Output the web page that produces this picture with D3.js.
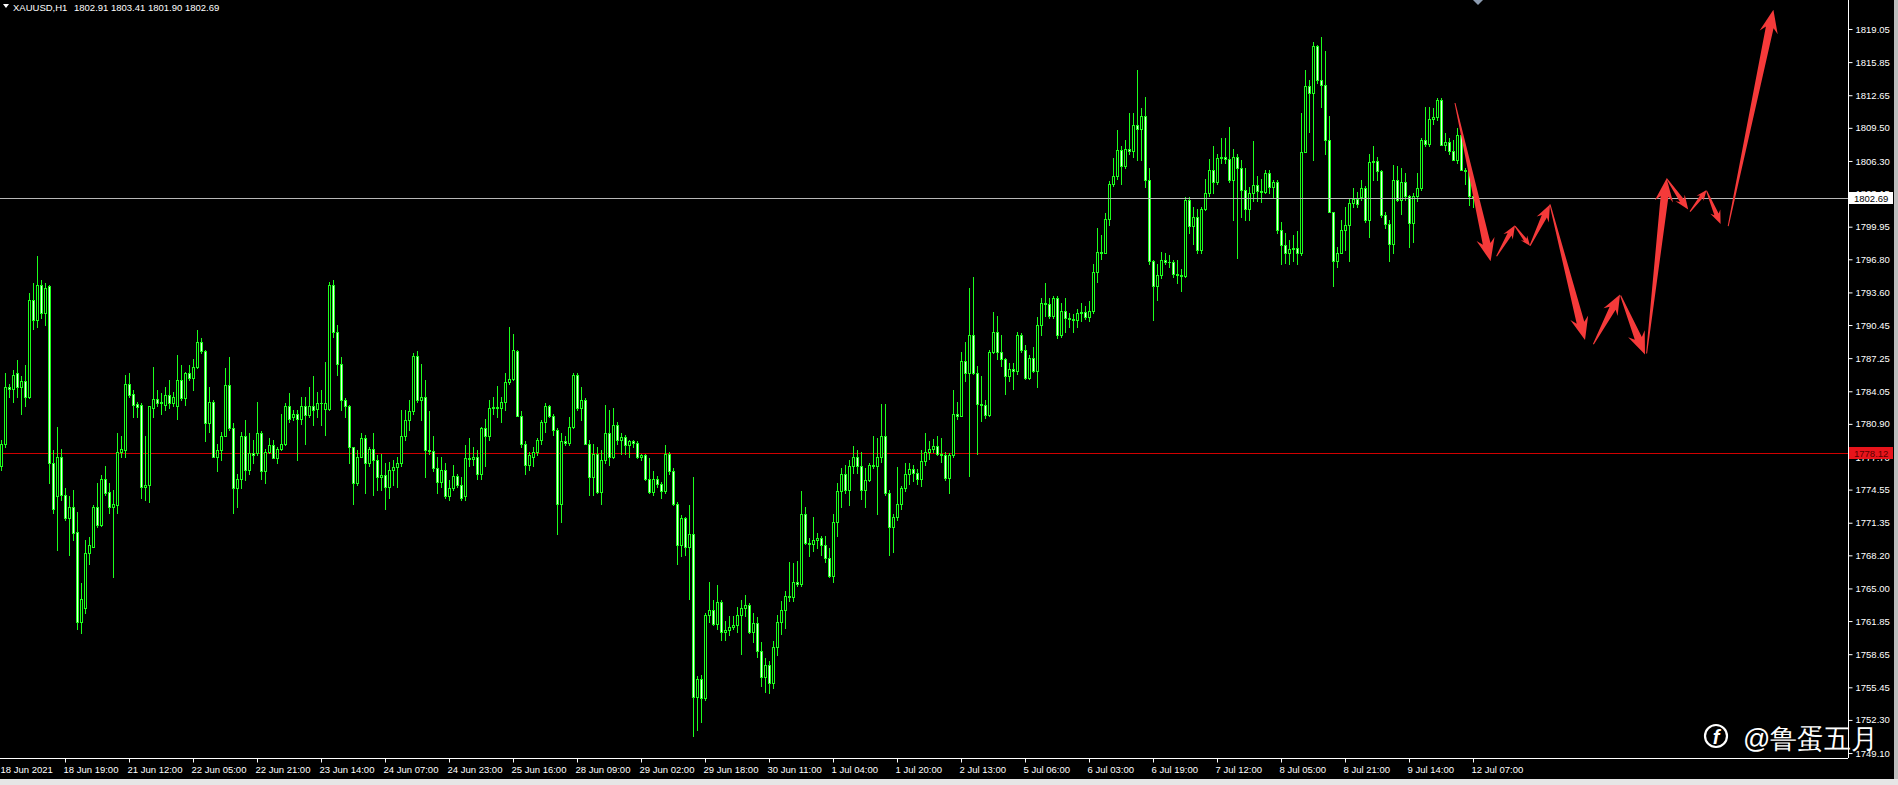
<!DOCTYPE html>
<html><head><meta charset="utf-8">
<script src="https://cdn.jsdelivr.net/npm/d3@7"></script>
<style>html,body{margin:0;padding:0;background:#000;overflow:hidden}text{font-family:"Liberation Sans",Arial,sans-serif}</style>
</head><body>
<svg id="c" width="1898" height="785"></svg>
<script>
const symbolTitle = "XAUUSD,H1";
const lastOHLC = [1802.91, 1803.41, 1801.90, 1802.69];
const bidPrice = 1802.69;
const levelPrice = 1778.12;
const barsPerLabel = 16;
const timeLabels = ["18 Jun 2021","18 Jun 19:00","21 Jun 12:00","22 Jun 05:00","22 Jun 21:00","23 Jun 14:00","24 Jun 07:00","24 Jun 23:00","25 Jun 16:00","28 Jun 09:00","29 Jun 02:00","29 Jun 18:00","30 Jun 11:00","1 Jul 04:00","1 Jul 20:00","2 Jul 13:00","5 Jul 06:00","6 Jul 03:00","6 Jul 19:00","7 Jul 12:00","8 Jul 05:00","8 Jul 21:00","9 Jul 14:00","12 Jul 07:00"];
const priceTicks = [1819.05,1815.85,1812.65,1809.50,1806.30,1803.15,1799.95,1796.80,1793.60,1790.45,1787.25,1784.05,1780.90,1777.70,1774.55,1771.35,1768.20,1765.00,1761.85,1758.65,1755.45,1752.30,1749.10];

const openP = [
1776.8,1779.0,1784.5,1784.3,1785.8,1784.5,1785.0,1783.5,1792.9,1790.9,
1794.3,1791.6,1794.2,1777.1,1773.9,1777.7,1774.0,1771.8,1772.9,1770.5,
1761.8,1763.1,1768.4,1769.0,1772.9,1771.1,1775.6,1774.3,1772.9,1773.1,
1778.2,1778.4,1784.8,1783.8,1782.8,1782.7,1774.8,1775.0,1782.4,1783.3,
1782.9,1782.7,1783.7,1782.9,1782.6,1785.1,1783.4,1785.8,1785.3,1786.4,
1788.8,1787.9,1781.0,1783.0,1777.7,1778.4,1779.7,1784.7,1780.5,1774.7,
1775.6,1779.7,1776.4,1778.1,1778.1,1780.0,1776.3,1778.2,1778.9,1777.6,
1778.5,1779.0,1782.6,1781.6,1781.9,1781.4,1782.6,1781.8,1782.6,1782.3,
1782.9,1782.3,1782.3,1794.3,1789.8,1786.7,1783.2,1782.6,1778.7,1775.2,
1777.7,1779.5,1777.1,1778.5,1777.4,1775.8,1776.0,1774.8,1776.4,1776.7,
1777.1,1779.7,1781.3,1782.1,1787.5,1783.2,1783.5,1778.4,1778.3,1776.6,
1775.3,1776.4,1773.9,1774.7,1775.9,1775.0,1773.9,1777.6,1777.5,1777.7,
1776.1,1780.5,1779.7,1782.4,1782.5,1782.4,1783.0,1784.9,1785.2,1787.9,
1781.7,1779.0,1776.9,1777.7,1778.2,1779.3,1781.1,1782.6,1781.7,1780.3,
1773.2,1779.2,1779.1,1780.6,1785.6,1782.4,1783.2,1779.0,1775.8,1778.0,
1774.3,1777.4,1780.0,1777.7,1780.8,1779.3,1779.6,1778.9,1779.2,1779.1,
1777.7,1777.9,1775.6,1774.3,1775.6,1775.1,1774.4,1778.0,1776.3,1773.2,
1769.2,1771.8,1769.0,1770.3,1754.5,1756.3,1754.4,1762.4,1762.9,1761.6,
1763.7,1760.8,1761.0,1761.3,1761.5,1762.4,1763.1,1763.4,1760.8,1761.7,
1759.0,1756.4,1757.6,1755.9,1759.3,1761.8,1762.9,1764.3,1764.2,1765.6,
1765.4,1772.2,1769.4,1769.3,1769.7,1769.9,1769.2,1767.9,1766.2,1771.4,
1774.4,1776.1,1774.5,1776.8,1777.7,1776.8,1774.5,1775.5,1776.9,1776.8,
1777.7,1779.7,1774.2,1770.9,1771.9,1773.2,1774.7,1776.1,1776.5,1776.2,
1775.6,1777.3,1778.2,1778.5,1778.8,1778.0,1777.9,1775.7,1777.9,1781.9,
1781.7,1787.0,1785.8,1789.5,1785.8,1782.8,1782.7,1781.8,1787.8,1789.8,
1787.8,1787.2,1785.5,1786.2,1786.0,1789.5,1788.0,1785.3,1787.3,1786.0,
1790.5,1792.6,1792.5,1791.3,1793.1,1789.5,1791.8,1791.1,1791.0,1790.9,
1791.6,1791.7,1791.2,1791.8,1795.6,1797.5,1797.4,1800.7,1804.1,1804.8,
1807.4,1805.8,1807.5,1807.3,1809.8,1809.4,1810.6,1804.5,1796.6,1794.2,
1795.3,1796.7,1796.5,1796.5,1795.4,1795.3,1795.2,1802.5,1800.0,1800.9,
1797.7,1801.7,1803.2,1805.4,1804.3,1806.6,1806.7,1806.5,1804.5,1806.7,
1805.6,1803.5,1801.7,1803.2,1804.0,1803.4,1803.3,1805.1,1803.8,1804.3,
1799.6,1798.2,1797.4,1797.8,1797.9,1797.4,1807.2,1813.5,1812.9,1817.4,
1814.1,1813.6,1808.3,1801.4,1796.6,1797.4,1799.6,1800.1,1802.2,1802.6,
1802.8,1803.7,1800.6,1806.2,1806.3,1805.3,1801.1,1800.2,1798.3,1804.5,
1802.5,1804.3,1802.9,1800.3,1802.9,1803.7,1808.3,1807.9,1810.4,1810.5,
1812.2,1807.8,1808.1,1807.3,1806.4,1808.8,1805.4,1805.3,1802.91];

const highP = [
1779.3,1785.8,1784.8,1786.1,1787.1,1785.5,1786.6,1793.5,1794.5,1797.1,
1794.8,1794.5,1794.3,1778.4,1780.6,1778.5,1774.7,1773.9,1774.5,1772.4,
1765.5,1769.7,1770.0,1773.1,1775.2,1776.0,1776.8,1775.2,1774.5,1780.0,
1779.7,1785.6,1785.8,1784.2,1783.0,1782.9,1779.7,1782.6,1786.4,1784.2,
1783.9,1784.5,1785.1,1784.0,1787.6,1786.6,1785.9,1786.6,1787.2,1790.0,
1789.2,1788.0,1784.5,1783.2,1779.0,1780.1,1786.3,1787.4,1781.0,1776.1,
1780.1,1781.3,1780.0,1779.3,1783.0,1780.2,1778.5,1779.5,1779.3,1778.7,
1781.9,1782.9,1783.9,1782.2,1782.2,1783.5,1783.5,1784.5,1785.5,1784.0,
1784.2,1786.9,1794.6,1794.8,1790.5,1787.4,1783.4,1782.7,1778.7,1778.4,
1780.0,1779.8,1778.7,1780.0,1777.9,1778.0,1777.1,1777.2,1777.4,1777.7,
1782.2,1782.2,1783.2,1787.7,1787.9,1786.7,1785.1,1782.1,1779.7,1777.7,
1777.7,1777.1,1775.5,1776.9,1776.1,1775.8,1778.9,1779.5,1778.7,1778.4,
1780.6,1781.4,1783.2,1783.5,1784.6,1783.5,1785.8,1790.3,1789.6,1788.0,
1782.1,1779.2,1778.2,1778.7,1779.5,1781.3,1782.9,1782.7,1781.9,1780.5,
1780.0,1779.7,1781.6,1785.8,1785.8,1784.5,1783.4,1779.3,1779.0,1778.7,
1778.4,1782.7,1782.2,1782.4,1781.1,1780.0,1779.8,1779.3,1779.3,1779.2,
1778.0,1778.0,1777.6,1776.3,1775.9,1775.3,1778.9,1778.2,1776.6,1773.4,
1772.1,1771.9,1773.1,1775.8,1756.5,1756.6,1762.6,1765.6,1763.9,1765.3,
1763.9,1761.9,1762.3,1762.3,1763.2,1763.9,1764.4,1763.6,1762.6,1762.2,
1759.8,1758.3,1758.0,1759.9,1762.4,1763.8,1764.8,1767.6,1767.5,1767.7,
1774.4,1772.9,1769.9,1771.9,1770.4,1770.1,1770.1,1768.9,1772.2,1775.2,
1776.6,1776.9,1777.4,1778.8,1778.4,1778.2,1776.6,1777.1,1779.7,1779.5,
1782.8,1782.8,1774.5,1772.2,1776.7,1774.9,1777.1,1777.1,1776.9,1776.5,
1778.4,1780.0,1779.2,1779.4,1779.7,1779.5,1778.2,1778.1,1784.2,1783.0,
1787.8,1788.8,1794.0,1795.1,1786.5,1785.5,1783.2,1788.0,1791.7,1791.3,
1789.5,1787.3,1786.8,1786.8,1789.8,1789.7,1788.5,1787.6,1788.3,1791.2,
1793.1,1794.5,1793.1,1793.3,1793.3,1792.6,1793.1,1791.6,1791.5,1792.0,
1792.6,1792.3,1792.8,1796.3,1799.8,1799.1,1801.3,1804.4,1806.6,1809.3,
1807.7,1808.3,1810.9,1810.9,1815.1,1811.4,1812.5,1805.6,1796.7,1796.3,
1797.5,1797.4,1797.2,1796.7,1796.7,1795.9,1802.8,1802.8,1801.9,1801.7,
1801.9,1804.6,1806.5,1807.7,1807.0,1808.5,1808.5,1809.6,1807.5,1807.0,
1806.4,1805.6,1803.8,1808.2,1804.8,1804.6,1805.4,1805.4,1804.5,1804.5,
1800.4,1799.3,1798.7,1799.1,1799.5,1810.9,1815.1,1814.1,1817.8,1817.5,
1818.3,1816.9,1810.6,1801.4,1798.0,1800.6,1801.9,1802.7,1803.7,1803.3,
1804.5,1803.9,1807.0,1807.7,1806.7,1805.4,1801.4,1800.6,1805.9,1805.8,
1805.6,1805.1,1803.0,1803.2,1805.1,1808.5,1811.5,1811.5,1811.4,1812.4,
1812.4,1809.0,1808.5,1808.3,1809.5,1809.0,1805.6,1805.4,1803.41];

const lowP = [
1776.4,1778.7,1783.5,1783.0,1783.5,1781.9,1782.6,1783.4,1790.1,1790.3,
1791.1,1790.5,1775.2,1772.3,1768.7,1773.5,1771.6,1768.2,1769.7,1761.1,
1760.7,1762.6,1767.4,1769.0,1770.9,1771.0,1774.0,1772.3,1766.1,1772.3,
1777.7,1777.7,1783.5,1781.6,1781.6,1773.7,1773.5,1773.4,1781.6,1782.6,
1781.9,1782.2,1782.4,1782.6,1781.4,1783.2,1782.7,1785.1,1784.2,1786.3,
1787.7,1779.2,1780.1,1777.7,1776.3,1777.4,1779.7,1780.3,1772.3,1772.9,
1774.7,1775.5,1776.1,1777.1,1777.9,1775.6,1775.2,1778.1,1777.6,1777.1,
1778.4,1778.9,1781.1,1781.3,1777.4,1780.9,1779.0,1781.6,1780.8,1781.6,
1780.8,1779.8,1782.2,1789.3,1785.6,1782.2,1781.6,1777.1,1773.2,1775.0,
1777.7,1774.2,1776.8,1774.0,1774.5,1774.5,1772.7,1773.7,1775.0,1774.8,
1776.8,1779.3,1780.3,1781.9,1783.0,1781.3,1775.8,1778.0,1776.3,1774.2,
1774.8,1773.7,1773.5,1774.5,1774.8,1773.5,1773.5,1776.8,1776.9,1775.6,
1775.6,1776.8,1779.3,1781.9,1781.6,1781.1,1782.2,1784.8,1785.1,1781.7,
1778.7,1776.1,1776.4,1776.8,1777.9,1779.0,1780.1,1781.6,1779.8,1770.3,
1771.4,1778.9,1778.9,1780.5,1782.2,1781.3,1779.0,1774.0,1774.0,1774.2,
1773.2,1777.1,1776.9,1777.6,1779.0,1778.0,1778.0,1777.7,1778.7,1777.6,
1777.4,1775.5,1774.2,1774.0,1774.8,1773.7,1774.2,1776.1,1773.1,1767.4,
1768.1,1768.2,1764.0,1750.7,1751.3,1752.1,1754.2,1761.8,1761.5,1761.1,
1760.0,1760.0,1760.5,1761.1,1760.8,1758.7,1762.3,1760.7,1759.8,1758.4,
1755.6,1755.0,1754.9,1755.4,1758.6,1760.6,1761.2,1763.8,1763.8,1765.2,
1765.2,1769.3,1768.1,1768.6,1768.9,1768.2,1767.6,1766.1,1765.6,1770.1,
1772.9,1774.2,1773.1,1776.2,1776.2,1773.6,1772.9,1775.4,1776.6,1772.2,
1777.2,1774.0,1768.2,1768.5,1771.6,1772.7,1774.4,1775.1,1775.4,1775.1,
1774.9,1776.9,1777.5,1778.2,1777.9,1777.2,1775.5,1774.2,1777.7,1781.4,
1781.7,1785.0,1775.9,1785.7,1778.0,1781.2,1781.5,1781.7,1787.7,1787.2,
1786.5,1783.8,1785.0,1784.3,1785.7,1787.8,1785.2,1785.2,1785.9,1784.5,
1789.5,1791.3,1791.1,1791.1,1789.2,1789.3,1789.8,1790.3,1789.8,1790.3,
1790.8,1791.0,1790.8,1791.6,1794.6,1796.8,1797.4,1800.1,1803.9,1804.6,
1804.1,1805.6,1807.0,1806.7,1806.4,1806.4,1803.8,1796.3,1790.9,1792.9,
1795.0,1796.3,1796.1,1795.1,1794.5,1793.7,1795.1,1799.3,1798.3,1797.4,
1797.4,1801.6,1802.9,1803.2,1804.1,1806.1,1806.1,1804.3,1800.6,1796.9,
1800.9,1800.6,1800.6,1802.4,1802.4,1802.3,1803.2,1803.2,1802.7,1799.3,
1796.3,1796.4,1796.3,1796.6,1796.3,1797.2,1807.2,1809.1,1806.4,1813.8,
1811.5,1807.0,1801.4,1794.2,1796.1,1797.4,1797.7,1796.6,1801.9,1801.9,
1802.5,1800.4,1799.0,1804.5,1804.5,1800.9,1799.8,1796.6,1797.4,1802.4,
1801.2,1802.5,1798.0,1798.5,1802.4,1803.5,1807.7,1807.7,1809.9,1810.3,
1807.8,1807.4,1807.0,1806.4,1806.1,1805.4,1804.1,1802.0,1801.90];

const closeP = [
1779.0,1784.5,1784.3,1785.6,1784.5,1785.0,1783.5,1792.9,1790.9,1794.3,
1791.6,1794.0,1777.1,1772.7,1777.7,1774.0,1771.8,1772.9,1770.4,1761.8,
1764.0,1768.4,1769.2,1772.9,1771.1,1775.6,1774.2,1772.9,1773.2,1778.2,
1778.5,1784.8,1783.7,1782.7,1782.5,1774.8,1775.0,1782.6,1783.3,1782.9,
1783.0,1783.7,1782.9,1783.5,1785.1,1783.4,1785.8,1785.3,1786.4,1788.8,
1787.9,1781.0,1783.0,1777.7,1778.4,1779.7,1784.7,1780.5,1774.7,1775.6,
1779.7,1776.4,1778.1,1777.9,1780.0,1776.3,1778.2,1778.9,1777.6,1778.5,
1779.0,1782.6,1781.4,1781.9,1781.4,1782.6,1781.8,1782.6,1782.2,1782.9,
1782.9,1782.9,1794.3,1789.8,1786.7,1783.2,1782.6,1778.7,1775.2,1777.7,
1779.5,1777.1,1778.5,1777.4,1775.8,1776.0,1774.8,1776.4,1776.7,1777.1,
1779.7,1781.3,1782.1,1787.5,1783.2,1783.5,1778.4,1778.3,1776.6,1775.3,
1776.4,1773.9,1774.7,1775.9,1775.0,1773.7,1777.6,1777.5,1777.7,1776.1,
1780.5,1779.7,1782.4,1782.5,1782.4,1783.0,1784.9,1785.2,1788.0,1781.7,
1779.0,1776.9,1777.9,1778.2,1779.3,1781.1,1782.6,1781.7,1780.3,1773.2,
1779.2,1779.1,1780.6,1785.6,1782.4,1783.2,1779.0,1775.8,1778.0,1774.3,
1777.4,1780.0,1777.7,1780.8,1779.3,1779.6,1778.9,1779.2,1779.1,1777.7,
1777.9,1775.6,1774.3,1775.6,1775.1,1774.4,1778.0,1776.3,1773.2,1769.2,
1771.8,1769.0,1770.3,1754.5,1756.3,1754.4,1762.4,1762.9,1761.6,1763.7,
1760.8,1761.0,1761.3,1761.5,1762.4,1763.1,1763.4,1760.8,1761.7,1759.0,
1756.4,1757.6,1755.9,1759.3,1761.8,1762.9,1764.3,1764.2,1765.6,1765.4,
1772.2,1769.4,1769.3,1769.7,1769.9,1769.2,1767.9,1766.2,1771.4,1774.4,
1776.1,1774.5,1776.8,1777.7,1776.8,1774.5,1775.5,1776.9,1776.8,1777.7,
1779.7,1774.2,1770.9,1771.9,1773.2,1774.7,1776.1,1776.5,1776.2,1775.6,
1777.3,1778.2,1778.5,1778.8,1778.0,1777.9,1775.7,1777.9,1781.9,1781.7,
1787.0,1785.8,1789.5,1785.8,1782.8,1782.7,1781.8,1787.8,1789.8,1787.8,
1787.2,1785.5,1786.2,1786.0,1789.5,1788.0,1785.3,1787.3,1786.0,1790.5,
1792.6,1792.5,1791.3,1793.1,1789.5,1791.8,1791.1,1791.0,1790.9,1791.6,
1791.7,1791.2,1791.8,1795.6,1797.5,1797.4,1800.7,1804.1,1804.8,1807.4,
1805.8,1807.5,1807.3,1809.8,1809.4,1810.6,1804.5,1796.6,1794.2,1795.3,
1796.7,1796.5,1796.5,1795.4,1795.3,1795.2,1802.5,1800.0,1800.9,1797.7,
1801.7,1803.2,1805.4,1804.3,1806.6,1806.7,1806.5,1804.5,1806.7,1805.6,
1803.5,1801.7,1803.2,1804.0,1803.4,1803.3,1805.1,1803.8,1804.3,1799.6,
1798.2,1797.4,1797.8,1797.9,1797.4,1807.2,1813.5,1812.9,1817.4,1814.1,
1813.6,1808.3,1801.4,1796.6,1797.4,1799.6,1800.1,1802.2,1802.6,1802.1,
1803.7,1800.6,1806.2,1806.3,1805.3,1801.1,1800.2,1798.3,1804.5,1802.5,
1804.3,1802.9,1800.3,1802.9,1803.7,1808.3,1807.9,1810.4,1810.5,1812.2,
1807.8,1808.1,1807.3,1806.4,1808.8,1805.4,1805.3,1802.9,1802.69];

// forecast arrows: from (bar, price) to (bar, price)
const arrowFromBar = [363.5,373.9,378.5,382.25,387.25,398.1,404.9,411.4,416.4,422.25,426.4,431.8];
const arrowFromPrice = [1811.9,1797.1,1800.0,1798.1,1802.1,1788.6,1793.3,1787.7,1804.6,1801.4,1803.4,1800.0];
const arrowToBar = [372.4,378.5,382.25,387.25,396,404.75,411,416.4,421.8,426.4,429.9,443.1];
const arrowToPrice = [1796.6,1800.1,1798.1,1802.1,1789.0,1793.4,1787.6,1804.6,1801.6,1803.5,1800.2,1820.9];

const watermark = "@鲁蛋五月";

// ---------- drawing ----------
const W = 1898, H = 785;
const plotRight = 1848, plotBottom = 758;
const svg = d3.select("#c");
svg.append("rect").attr("width", W).attr("height", H).attr("fill", "#000");

const x = d3.scaleLinear().domain([0, 461.75]).range([1, plotRight]);
const y = d3.scaleLinear().domain([1748.62, 1821.85]).range([plotBottom, 0]);

const bars = d3.range(closeP.length).map(i => ({i, o: openP[i], h: highP[i], l: lowP[i], c: closeP[i]}));

// support level line
svg.append("line").attr("x1", 0).attr("x2", plotRight).attr("y1", Math.round(y(levelPrice)) + 0.5).attr("y2", Math.round(y(levelPrice)) + 0.5)
  .attr("stroke", "#d00000").attr("stroke-width", 1);

const gC = svg.append("g").attr("shape-rendering", "crispEdges");
bars.forEach(b => {
  const cx = Math.round(x(b.i));
  const yh = Math.round(y(b.h)), yl = Math.round(y(b.l));
  gC.append("rect").attr("x", cx).attr("y", yh).attr("width", 1).attr("height", Math.max(1, yl - yh + 1)).attr("fill", "#1cff1c");
  const top = Math.round(y(Math.max(b.o, b.c))), bot = Math.round(y(Math.min(b.o, b.c)));
  gC.append("rect").attr("x", cx - 1).attr("y", top).attr("width", 3).attr("height", Math.max(1, bot - top + 1)).attr("fill", "#1cff1c");
  if (bot - top >= 2) {
    gC.append("rect").attr("x", cx).attr("y", top + 1).attr("width", 1).attr("height", bot - top - 1)
      .attr("fill", b.c >= b.o ? "#000" : "#e8ffe8");
  }
});

// bid line
svg.append("line").attr("x1", 0).attr("x2", plotRight).attr("y1", Math.round(y(bidPrice)) + 0.5).attr("y2", Math.round(y(bidPrice)) + 0.5)
  .attr("stroke", "#b8b8b8").attr("stroke-width", 1);

// arrows
const gA = svg.append("g");
arrowFromBar.forEach((_, k) => {
  const x0 = x(arrowFromBar[k]), y0 = y(arrowFromPrice[k]);
  const x1 = x(arrowToBar[k]), y1 = y(arrowToPrice[k]);
  const dx = x1 - x0, dy = y1 - y0, L = Math.hypot(dx, dy);
  const ux = dx / L, uy = dy / L, nx = -uy, ny = ux;
  const hl = Math.min(23, 0.32 * L + 2), hw = hl * 0.4, sw = hl * 0.17, tw = 0.5;
  const bx = x1 - ux * hl, by = y1 - uy * hl;
  const nbx = x1 - ux * hl * 0.78, nby = y1 - uy * hl * 0.78;
  const pts = [
    [x0 + nx * tw, y0 + ny * tw],
    [nbx + nx * sw, nby + ny * sw],
    [bx + nx * hw, by + ny * hw],
    [x1, y1],
    [bx - nx * hw, by - ny * hw],
    [nbx - nx * sw, nby - ny * sw],
    [x0 - nx * tw, y0 - ny * tw]
  ];
  gA.append("path").attr("d", "M" + pts.map(p => p.join(",")).join("L") + "Z").attr("fill", "#f53a3a");
});

// price axis
const yAxis = d3.axisRight(y).tickValues(priceTicks).tickSize(4).tickSizeOuter(0).tickPadding(3).tickFormat(d => d.toFixed(2));
const gY = svg.append("g").attr("transform", `translate(${plotRight + 0.5},0)`).call(yAxis);
gY.select(".domain").attr("stroke", "#fff").attr("d", `M0,0V${plotBottom}`);
gY.selectAll(".tick line").attr("stroke", "#fff");
gY.selectAll(".tick text").attr("fill", "#fff").attr("font-size", "9.5px").attr("font-family", "Liberation Sans, Arial, sans-serif");

// time axis
const xAxis = d3.axisBottom(x).tickValues(timeLabels.map((_, i) => i * barsPerLabel)).tickSize(4).tickSizeOuter(0)
  .tickFormat((d, i) => timeLabels[i]);
const gX = svg.append("g").attr("transform", `translate(0,${plotBottom + 0.5})`).call(xAxis);
gX.select(".domain").attr("stroke", "#fff").attr("d", `M0,0H${plotRight}`);
gX.selectAll(".tick line").attr("stroke", "#fff");
gX.selectAll(".tick text").attr("fill", "#fff").attr("font-size", "9.5px").attr("text-anchor", "start")
  .attr("x", (d, i) => i === 0 ? -1 : -2).attr("y", 8).attr("font-family", "Liberation Sans, Arial, sans-serif");
gX.selectAll(".tick").filter(d => d === 0).select("line").remove();

// price labels on the axis
function priceLabel(p, bg, fg) {
  const yy = Math.round(y(p));
  svg.append("rect").attr("x", plotRight + 1).attr("y", yy - 6).attr("width", 44).attr("height", 12).attr("fill", bg);
  svg.append("text").attr("x", plotRight + 6).attr("y", yy + 4).attr("fill", fg).attr("font-size", "9.5px").text(p.toFixed(2));
}
priceLabel(bidPrice, "#ffffff", "#000");
priceLabel(levelPrice, "#e8141b", "#5a0000");

// shift marker
const mx = Math.round(x(closeP.length - 1)) + 5;
svg.append("path").attr("d", `M${mx - 5},0L${mx + 5},0L${mx},5Z`).attr("fill", "#8c9bb0");

// title
svg.append("path").attr("d", "M3,4L9,4L6,8Z").attr("fill", "#fff");
svg.append("text").attr("x", 13).attr("y", 11).attr("fill", "#fff").attr("font-size", "9.5px").text(symbolTitle);
svg.append("text").attr("x", 74).attr("y", 11).attr("fill", "#fff").attr("font-size", "9.5px").text(lastOHLC.map(v => v.toFixed(2)).join(" "));

// window edges
svg.append("rect").attr("x", 0).attr("y", 779).attr("width", W).attr("height", 6).attr("fill", "#e6e6e6");
svg.append("rect").attr("x", 1894).attr("y", 0).attr("width", 4).attr("height", 779).attr("fill", "#bdbdbd");

// watermark
const wm = svg.append("g");
wm.append("circle").attr("cx", 1716).attr("cy", 736).attr("r", 11).attr("fill", "none").attr("stroke", "#fff").attr("stroke-width", 2.2);
wm.append("text").attr("x", 1716).attr("y", 744).attr("text-anchor", "middle").attr("fill", "#fff")
  .attr("font-size", "20px").attr("font-style", "italic").attr("font-weight", "bold").attr("font-family", "DejaVu Serif, serif").text("f");
wm.append("text").attr("x", 1743).attr("y", 748).attr("fill", "#fff").attr("font-size", "27px")
  .attr("font-family", "Noto Sans CJK SC, sans-serif").text(watermark);
</script>
</body></html>
